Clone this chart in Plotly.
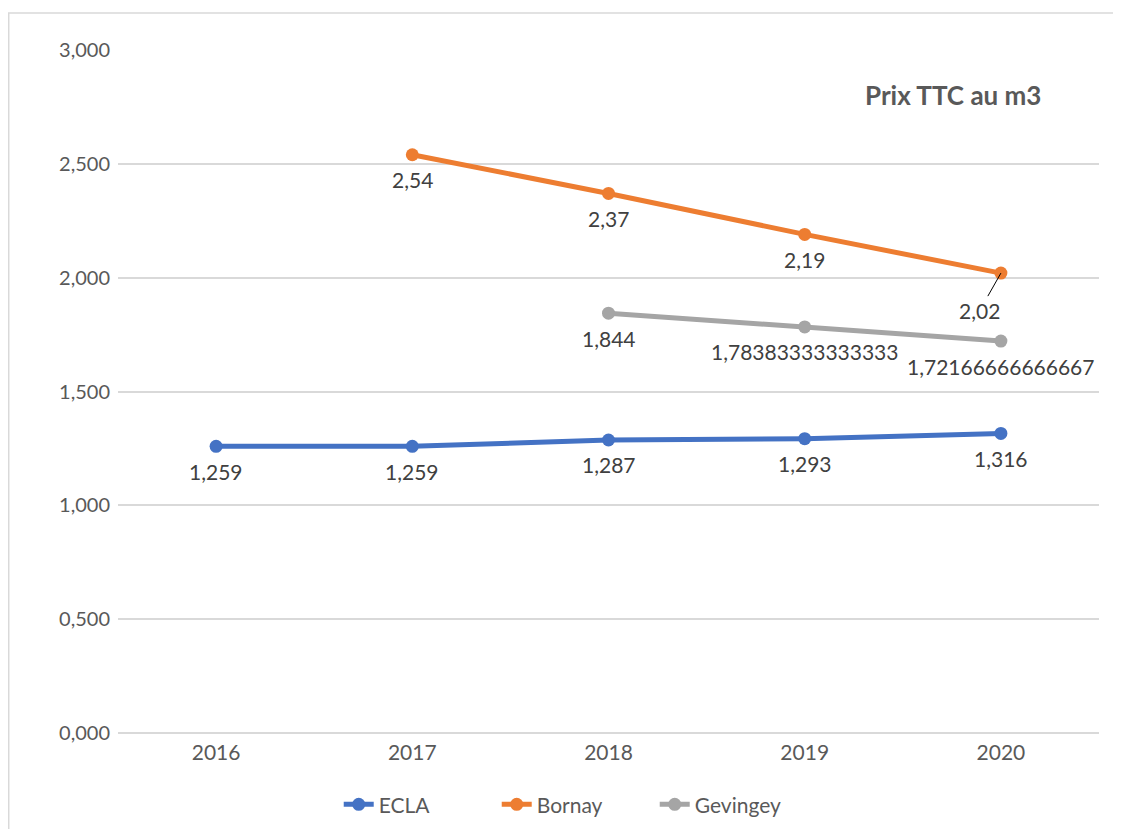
import plotly.graph_objects as go

years = ["2016", "2017", "2018", "2019", "2020"]
ecla = [1.259, 1.259, 1.287, 1.293, 1.316]
bornay = [None, 2.54, 2.37, 2.19, 2.02]
gevingey = [None, None, 1.844, 1.78383333333333, 1.72166666666667]

y_ticks = [0, 0.5, 1.0, 1.5, 2.0, 2.5, 3.0]

FONT = "Lato"
TXT = "#595959"
LBL = "#404040"


def fmt(v):
    return repr(v).replace(".", ",")


fig = go.Figure()

series = [
    ("ECLA", ecla, "#4472C4"),
    ("Bornay", bornay, "#ED7D31"),
    ("Gevingey", gevingey, "#A5A5A5"),
]
for name, vals, col in series:
    fig.add_trace(go.Scatter(
        x=years, y=vals, name=name, mode="lines+markers",
        line=dict(color=col, width=5),
        marker=dict(color=col, size=13),
        cliponaxis=False,
    ))
    # data labels under the points
    for i, v in enumerate(vals):
        if v is None:
            continue
        if name == "Bornay" and i == 4:
            # this one was dragged aside in the original, with a leader line
            fig.add_annotation(x=i, y=v, text=fmt(v), showarrow=True,
                               arrowhead=0, arrowwidth=1, arrowcolor="#000000",
                               ax=-21, ay=37,
                               font=dict(family=FONT, size=21, color=LBL))
            continue
        fig.add_annotation(x=i, y=v, text=fmt(v), showarrow=False,
                           yshift=-25, font=dict(family=FONT, size=21, color=LBL))

fig.add_annotation(
    text="<b>Prix TTC au m3</b>", xref="paper", yref="paper",
    x=0.851, y=0.934, xanchor="center", yanchor="middle", showarrow=False,
    font=dict(family=FONT, size=26, color=TXT),
)

# chart border
fig.add_shape(type="rect", xref="paper", yref="paper",
              x0=-0.1114, x1=1.0214, y0=-0.2, y1=1.0542,
              line=dict(color="#D9D9D9", width=1.5), layer="below")

fig.update_layout(
    width=1121, height=829,
    margin=dict(l=110, r=30, t=42, b=104),
    paper_bgcolor="white", plot_bgcolor="white",
    separators=", ",
    font=dict(family=FONT, size=20, color=TXT),
    showlegend=True,
    legend=dict(orientation="h", x=0.225, xanchor="left", y=-0.105,
                yanchor="middle", entrywidth=113, entrywidthmode="pixels",
                font=dict(family=FONT, size=21, color=TXT)),
)
fig.update_xaxes(type="category", range=[-0.5, 4.5], showgrid=False,
                 showline=False, ticks="", ticklabelstandoff=5,
                 tickfont=dict(size=21, color=TXT))
fig.update_yaxes(range=[0, 3.0], tickvals=y_ticks, tickformat=".3f",
                 showgrid=True, gridcolor="#D9D9D9", gridwidth=1.5,
                 zeroline=True, zerolinecolor="#D9D9D9", zerolinewidth=1.5,
                 showline=False, ticks="", ticklabelstandoff=7,
                 tickfont=dict(size=20, color=TXT))

fig.write_html("out.html")
